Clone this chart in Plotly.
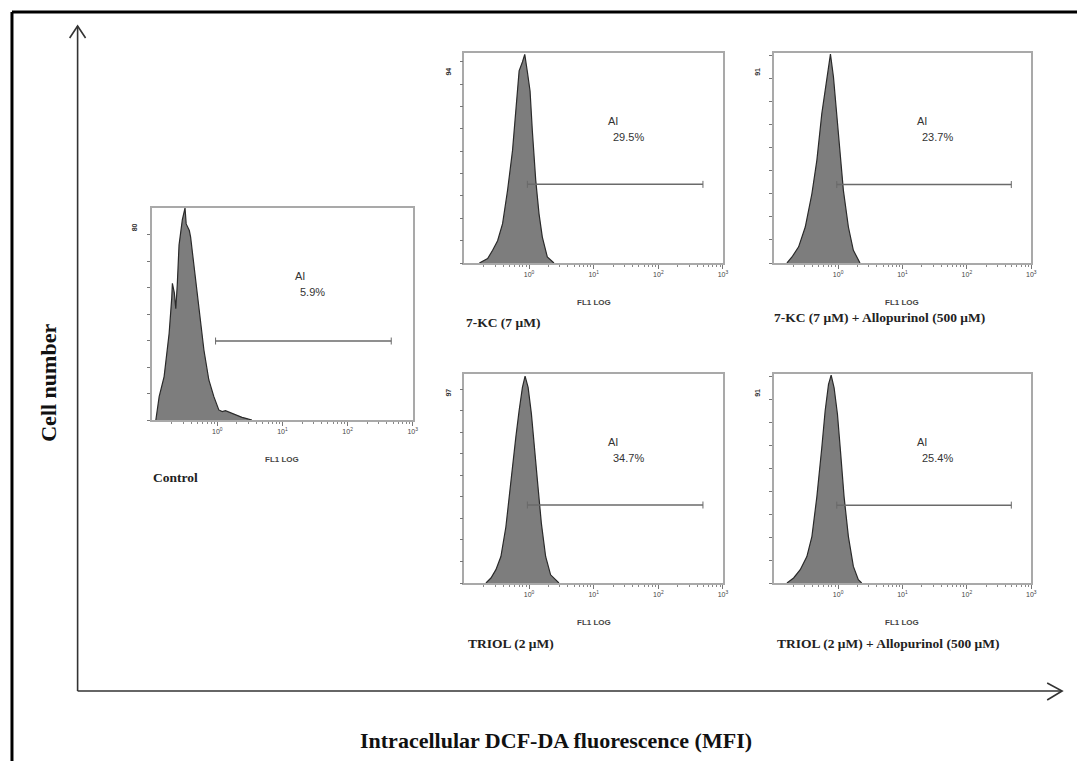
import numpy as np
import plotly.graph_objects as go

# The page body adds an 8 px margin, so the figure is drawn 8 px smaller and
# all reference pixel positions are shifted by that offset.
OFF = 8
W, H = 1085 - OFF, 761 - OFF

# ---------------- data ----------------
panel_names = ["Control", "7-KC (7 μM)", "7-KC (7 μM) + Allopurinol (500 μM)",
               "TRIOL (2 μM)", "TRIOL (2 μM) + Allopurinol (500 μM)"]
ai_values = ["5.9%", "29.5%", "23.7%", "34.7%", "25.4%"]
y_max = [80, 94, 91, 97, 91]

# histograms: x in log10(FL1), y = cell counts
ctrl_log = [-0.944, -0.893, -0.817, -0.740, -0.700, -0.690, -0.660, -0.638, -0.615, -0.588,
            -0.537, -0.496, -0.478, -0.461, -0.430, -0.410, -0.359, -0.282, -0.206, -0.130,
            -0.053, 0.023, 0.075, 0.125, 0.226, 0.300, 0.379, 0.481, 0.531]
ctrl_cnt = [0, 8.8, 16.4, 32.7, 46, 51.6, 48, 42, 51, 66,
            75.6, 80, 74, 73, 71.5, 69, 58, 40.3, 26.4, 15.1,
            8.8, 3.8, 3.2, 3.5, 2.5, 1.8, 1.0, 0.3, 0]

kc_log = [-0.769, -0.641, -0.564, -0.487, -0.410, -0.333, -0.256, -0.205, -0.154, -0.103,
          -0.067, -0.026, 0.015, 0.051, 0.103, 0.154, 0.205, 0.282, 0.385]
kc_cnt = [0, 2, 5.7, 10, 17.6, 32.5, 50.4, 67, 86, 90,
          93.4, 85.5, 77, 59, 37, 22, 11.6, 2.7, 0]

kca_log = [-0.794, -0.716, -0.613, -0.510, -0.407, -0.330, -0.253, -0.201, -0.149, -0.119,
           -0.072, -0.021, 0.031, 0.082, 0.160, 0.237, 0.340]
kca_cnt = [0, 2.6, 7, 15.6, 30, 44.5, 64.7, 74.9, 86.4, 90.5,
           80.6, 64.7, 48.8, 31.5, 15.6, 5.5, 0]

tr_log = [-0.667, -0.590, -0.513, -0.436, -0.359, -0.282, -0.205, -0.154, -0.103, -0.062,
          -0.015, 0.036, 0.087, 0.138, 0.190, 0.256, 0.333, 0.462]
tr_cnt = [0, 2.3, 6.2, 12.3, 26, 47.7, 67.7, 80, 90.8, 96,
          90.8, 78.5, 60, 44.6, 27.7, 12.3, 3.8, 0]

tra_log = [-0.794, -0.691, -0.588, -0.485, -0.407, -0.330, -0.253, -0.201, -0.149, -0.108,
           -0.062, -0.010, 0.041, 0.093, 0.160, 0.237, 0.314, 0.366]
tra_cnt = [0, 2.2, 5.8, 11.5, 20.2, 37.5, 59, 75, 86.5, 90.5,
           85, 73.5, 56, 37.5, 20.2, 7.2, 1.4, 0]

hist_logs = [ctrl_log, kc_log, kca_log, tr_log, tra_log]
hist_cnts = [ctrl_cnt, kc_cnt, kca_cnt, tr_cnt, tra_cnt]

# AI gate markers (log10 start / end, height in counts)
gate_start = [-0.027, -0.026, -0.021, -0.026, -0.021]
gate_end = [2.67, 2.69, 2.69, 2.69, 2.69]
gate_y = [29.8, 35.2, 34.0, 36.2, 33.9]

x_tick_exps = [0, 1, 2, 3]
x_tick_text = ["10<sup>0</sup>", "10<sup>1</sup>", "10<sup>2</sup>", "10<sup>3</sup>"]

# ---------------- layout geometry (reference pixels) ----------------
boxes = [  # left, top, right, bottom
    (153, 208, 415, 420),
    (467, 53, 727, 263),
    (778, 53, 1037, 263),
    (467, 374, 727, 583),
    (778, 374, 1037, 583),
]
caption_pos = [(152, 477), (467, 322), (776, 317), (469, 643), (779, 643)]


def px(x):
    return (x - OFF) / W


def py(y):
    return 1 - (y - OFF) / H


SERIF = "Liberation Serif, Times New Roman, serif"
SANS = "Liberation Sans, Arial, sans-serif"
GRAY_BOX = "#a9a9a9"

fig = go.Figure()
layout = dict(
    width=W, height=H,
    margin=dict(l=0, r=0, t=0, b=0),
    paper_bgcolor="white", plot_bgcolor="white",
    showlegend=False,
)
annotations = []
shapes = []

minor_vals = [m * 10.0 ** d for d in range(-1, 3) for m in range(2, 10)]

for i in range(5):
    ax = "" if i == 0 else str(i + 1)
    xa, ya = "x" + ax, "y" + ax
    l, t, r, b = boxes[i]
    layout["xaxis" + ax] = dict(
        type="log", range=[-1, 3], domain=[px(l), px(r)], anchor=ya,
        showgrid=False, zeroline=False,
        showline=True, mirror=True, linecolor=GRAY_BOX, linewidth=1.5,
        ticks="outside", ticklen=4, tickwidth=1, tickcolor="#777",
        tickvals=[10.0 ** e for e in x_tick_exps], ticktext=x_tick_text,
        tickfont=dict(family=SANS, size=7, color="#444"),
        minor=dict(tickvals=minor_vals, ticks="outside", ticklen=2, tickcolor="#888", tickwidth=1),
    )
    layout["yaxis" + ax] = dict(
        range=[0, y_max[i]], domain=[py(b), py(t)], anchor=xa,
        showgrid=False, zeroline=False,
        showline=True, mirror=True, linecolor=GRAY_BOX, linewidth=1.5,
        ticks="outside", ticklen=3, tickwidth=1, tickcolor="#777",
        tickvals=list(range(0, y_max[i], 10)), showticklabels=False,
    )
    xs = np.power(10.0, hist_logs[i])
    fig.add_trace(go.Scatter(
        x=xs, y=hist_cnts[i], xaxis=xa, yaxis=ya, mode="lines",
        fill="tozeroy", fillcolor="#7d7d7d",
        line=dict(color="#2a2a2a", width=1.2), hoverinfo="skip",
    ))
    gx = np.power(10.0, [gate_start[i], gate_end[i]])
    fig.add_trace(go.Scatter(
        x=gx, y=[gate_y[i], gate_y[i]], xaxis=xa, yaxis=ya, mode="lines+markers",
        line=dict(color="#6a6a6a", width=1.5),
        marker=dict(symbol="line-ns-open", size=5, color="#6a6a6a", line=dict(width=1, color="#6a6a6a")),
        hoverinfo="skip",
    ))
    # y max label
    annotations.append(dict(
        x=px(l - 17), y=py(t + 19), xref="paper", yref="paper",
        text="<b>%d</b>" % y_max[i], textangle=-90, showarrow=False,
        xanchor="center", yanchor="middle",
        font=dict(family=SANS, size=7, color="#333"),
    ))
    # AI text
    annotations.append(dict(
        x=px(l + 142), y=py(t + 68), xref="paper", yref="paper",
        text="AI", showarrow=False, xanchor="left", yanchor="middle",
        font=dict(family=SANS, size=11, color="#333"),
    ))
    annotations.append(dict(
        x=px(l + 147), y=py(t + 84), xref="paper", yref="paper",
        text=ai_values[i], showarrow=False, xanchor="left", yanchor="middle",
        font=dict(family=SANS, size=11, color="#333"),
    ))
    # FL1 LOG
    annotations.append(dict(
        x=px((l + r) / 2), y=py(b + 39), xref="paper", yref="paper",
        text="<b>FL1 LOG</b>", showarrow=False, xanchor="center", yanchor="middle",
        font=dict(family=SANS, size=8, color="#444"),
    ))
    # caption
    cx, cy = caption_pos[i]
    annotations.append(dict(
        x=px(cx), y=py(cy), xref="paper", yref="paper",
        text="<b>%s</b>" % panel_names[i], showarrow=False, xanchor="left", yanchor="middle",
        font=dict(family=SERIF, size=13.5, color="#222"),
    ))

# axis titles
annotations.append(dict(
    x=px(48), y=py(383), xref="paper", yref="paper",
    text="<b>Cell number</b>", textangle=-90, showarrow=False,
    xanchor="center", yanchor="middle",
    font=dict(family=SERIF, size=22, color="#111"),
))
annotations.append(dict(
    x=px(559), y=py(740), xref="paper", yref="paper",
    text="<b>Intracellular DCF-DA fluorescence (MFI)</b>", showarrow=False,
    xanchor="center", yanchor="middle",
    font=dict(family=SERIF, size=22, color="#111"),
))

# outer frame (top and left edges)
shapes.append(dict(type="line", xref="paper", yref="paper",
                   x0=px(12), y0=py(12), x1=1.0, y1=py(12), line=dict(color="black", width=3)))
shapes.append(dict(type="line", xref="paper", yref="paper",
                   x0=px(12), y0=py(12), x1=px(12), y1=0.0, line=dict(color="black", width=3)))
# big axes arrows
ARROW = "#333"
shapes.append(dict(type="line", xref="paper", yref="paper",
                   x0=px(78), y0=py(691), x1=px(78), y1=py(26), line=dict(color=ARROW, width=1.6)))
shapes.append(dict(type="line", xref="paper", yref="paper",
                   x0=px(78), y0=py(691), x1=px(1068), y1=py(691), line=dict(color=ARROW, width=1.6)))
shapes.append(dict(type="path", xref="paper", yref="paper",
                   path="M %f %f L %f %f L %f %f" % (px(70), py(38), px(78), py(26), px(86), py(38)),
                   line=dict(color=ARROW, width=1.6)))
shapes.append(dict(type="path", xref="paper", yref="paper",
                   path="M %f %f L %f %f L %f %f" % (px(1053), py(683), px(1068), py(691), px(1053), py(700)),
                   line=dict(color=ARROW, width=1.6)))

layout["annotations"] = annotations
layout["shapes"] = shapes
fig.update_layout(**layout)

fig.write_html("out.html")
